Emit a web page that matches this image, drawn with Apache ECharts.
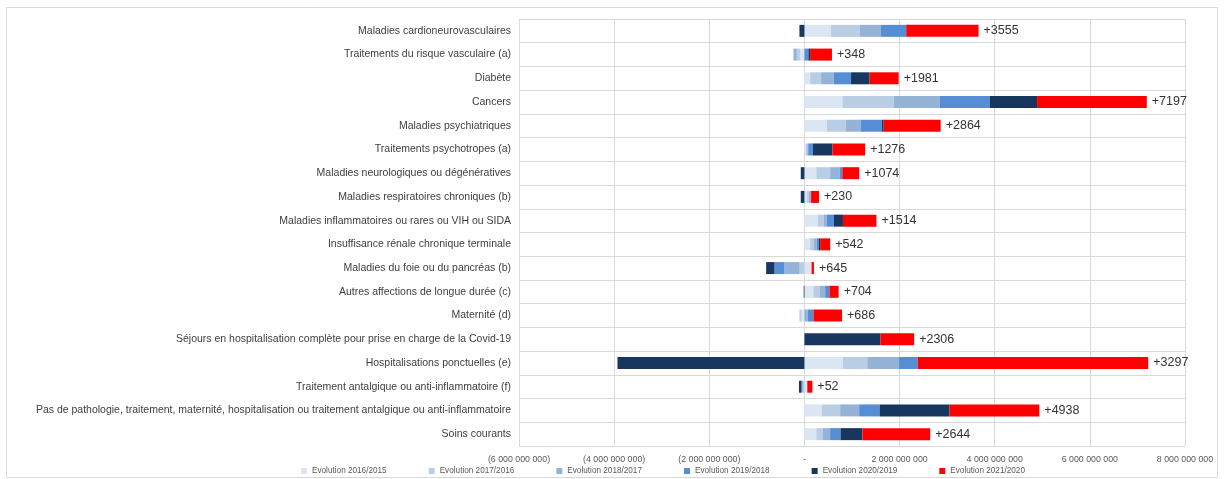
<!DOCTYPE html>
<html>
<head>
<meta charset="utf-8">
<script src="https://cdn.jsdelivr.net/npm/echarts@6/dist/echarts.min.js"></script>
<style>
html,body{margin:0;padding:0;background:#fff;}
#chart{width:1224px;height:479px;}
</style>
</head>
<body>
<div id="chart"></div>
<script>
// Categories (top to bottom)
const categories = [
  "Maladies cardioneurovasculaires",
  "Traitements du risque vasculaire (a)",
  "Diabète",
  "Cancers",
  "Maladies psychiatriques",
  "Traitements psychotropes (a)",
  "Maladies neurologiques ou dégénératives",
  "Maladies respiratoires chroniques (b)",
  "Maladies inflammatoires ou rares ou VIH ou SIDA",
  "Insuffisance rénale chronique terminale",
  "Maladies du foie ou du pancréas (b)",
  "Autres affections de longue durée (c)",
  "Maternité (d)",
  "Séjours en hospitalisation complète pour prise en charge de la Covid-19",
  "Hospitalisations ponctuelles (e)",
  "Traitement antalgique ou anti-inflammatoire (f)",
  "Pas de pathologie, traitement, maternité, hospitalisation ou traitement antalgique ou anti-inflammatoire",
  "Soins courants"
];

const seriesNames = [
  "Evolution 2016/2015",
  "Evolution 2017/2016",
  "Evolution 2018/2017",
  "Evolution 2019/2018",
  "Evolution 2020/2019",
  "Evolution 2021/2020"
];

// Values in millions of euros
const evo2016 = [560, -90, 120, 800, 470, 30, 250, 50, 280, 120, 150, 190, -60, 0, 810, 60, 365, 250];
const evo2017 = [600, -70, 230, 1080, 400, 30, 290, 40, 130, 80, -100, 126, -45, 0, 510, -30, 386, 140];
const evo2018 = [450, -70, 270, 960, 320, 20, 200, 40, 60, 60, -320, 120, 70, 0, 670, -30, 400, 150];
const evo2019 = [530, 84, 360, 1060, 440, 100, 56, 10, 150, 40, -210, 90, 120, 0, 390, 0, 430, 220];
const evo2020 = [-105, 35, 390, 990, 35, 410, -77, -77, 190, 30, -175, -15, 0, 1600, -3930, -55, 1470, 460];
const evo2021 = [1520, 460, 611, 2307, 1199, 686, 355, 167, 704, 212, 50, 193, 601, 706, 4847, 107, 1887, 1424];

// Total labels (millions of euros), as printed
const totalLabels = [3555, 348, 1981, 7197, 2864, 1276, 1074, 230, 1514, 542, 645, 704, 686, 2306, 3297, 52, 4938, 2644];

// X axis tick settings
const xMin = -6000000000, xMax = 8000000000, xInterval = 2000000000;

const colors = ["#dce6f2", "#b9cde5", "#95b3d7", "#558ed5", "#17375e", "#ff0000"];
const allSeries = [evo2016, evo2017, evo2018, evo2019, evo2020, evo2021];

const FONT = '"Liberation Sans", Arial, sans-serif';

function fmtNum(v) {
  return String(Math.round(v)).replace(/\B(?=(\d{3})+(?!\d))/g, " ");
}

const series = allSeries.map((arr, i) => {
  const s = {
    name: seriesNames[i],
    type: "bar",
    stack: "total",
    barWidth: 12,
    itemStyle: { color: colors[i] },
    data: arr.map(v => v * 1e6),
    emphasis: { disabled: true }
  };
  if (i === allSeries.length - 1) {
    s.label = {
      show: true,
      position: "right",
      distance: 5,
      color: "#333333",
      fontSize: 12.5,
      fontFamily: FONT,
      formatter: p => "+" + totalLabels[p.dataIndex]
    };
  }
  return s;
});

const chart = echarts.init(document.getElementById("chart"), null, { renderer: "canvas" });
chart.setOption({
  animation: false,
  backgroundColor: "#ffffff",
  textStyle: { fontFamily: FONT },
  graphic: [{
    type: "rect",
    shape: { x: 6.5, y: 7.5, width: 1211, height: 470 },
    style: { fill: "none", stroke: "#d9d9d9", lineWidth: 1 },
    silent: true
  }],
  grid: { left: 519, right: 39, top: 19, bottom: 33, containLabel: false, outerBoundsMode: "none" },
  legend: {
    data: seriesNames,
    left: 296,
    top: 462,
    icon: "rect",
    itemWidth: 6,
    itemHeight: 6,
    itemGap: 42,
    itemTextGap: 4,
    textStyle: { color: "#595959", fontSize: 8.2, fontFamily: FONT }
  },
  xAxis: {
    type: "value",
    min: xMin,
    max: xMax,
    interval: xInterval,
    axisLine: { show: false },
    axisTick: { show: false },
    splitLine: { show: true, lineStyle: { color: "#d9d9d9", width: 1 } },
    axisLabel: {
      color: "#595959",
      fontSize: 8.8,
      fontFamily: FONT,
      margin: 9,
      formatter: v => v === 0 ? "-" : (v < 0 ? "(" + fmtNum(-v) + ")" : fmtNum(v))
    }
  },
  yAxis: {
    type: "category",
    data: categories,
    inverse: true,
    axisLine: { show: false },
    axisTick: { show: true, length: 4, lineStyle: { color: "#d9d9d9" } },
    splitLine: { show: true, lineStyle: { color: "#d9d9d9", width: 1 } },
    axisLabel: {
      color: "#404040",
      fontSize: 10.5,
      fontFamily: FONT,
      margin: 8
    }
  },
  series: series
});
</script>
</body>
</html>
